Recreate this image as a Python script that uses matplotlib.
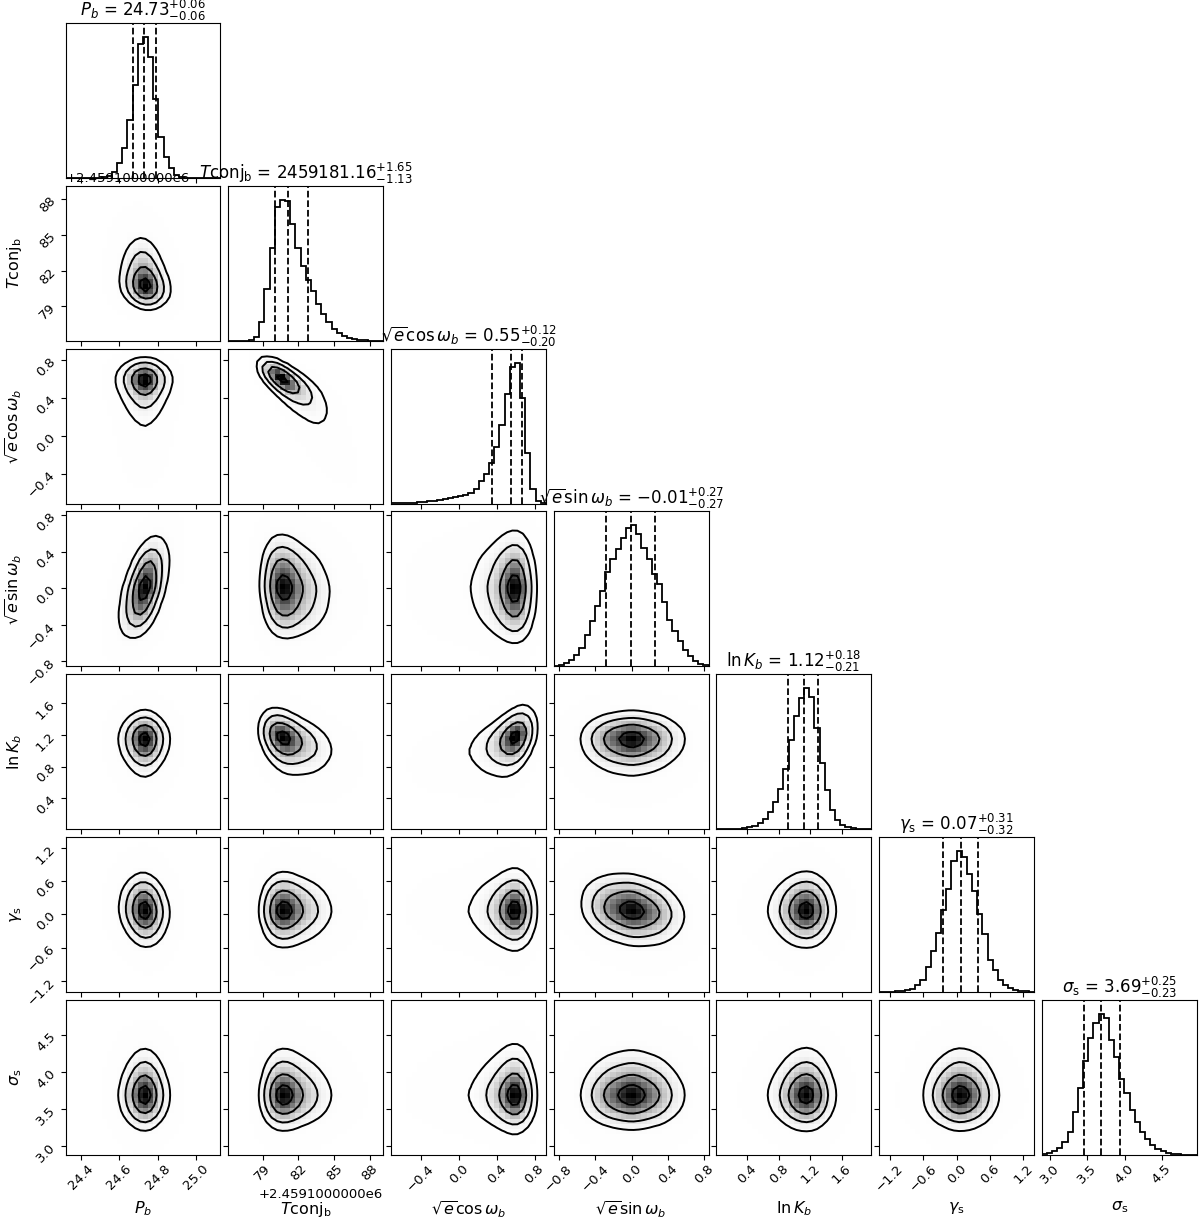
import math
import numpy as np
import matplotlib
matplotlib.use("Agg")
import matplotlib.pyplot as plt
from matplotlib.colors import LinearSegmentedColormap
from matplotlib.ticker import FixedLocator, FixedFormatter, NullFormatter, NullLocator

# ---------------- data ----------------
param_labels = [r"$P_b$", r"$T{\rm conj}_{\rm b}$", r"$\sqrt{e}\cos{\omega_b}$",
                r"$\sqrt{e}\sin{\omega_b}$", r"$\ln{K_b}$", r"$\gamma_{\rm s}$",
                r"$\sigma_{\rm s}$"]
medians = [24.73, 2459181.16, 0.55, -0.01, 1.12, 0.07, 3.69]
err_lo = [0.06, 1.13, 0.20, 0.27, 0.21, 0.32, 0.23]
err_hi = [0.06, 1.65, 0.12, 0.27, 0.18, 0.31, 0.25]
value_offset = [0.0, 2459100.0, 0.0, 0.0, 0.0, 0.0, 0.0]
offset_text = "+2.4591000000e6"

# sample ranges (min, max) of each parameter
ranges = [(24.318, 25.129), (2459176.12, 2459189.11), (-0.717, 0.92),
          (-0.855, 0.845), (0.0085, 1.971), (-1.398, 1.391), (2.888, 4.97)]

# 1D histogram heights (30 bins, relative units)
hist_P = [0, 0, 0, 0, 0, 0, 0, 0.5, 1.5, 4.5, 11, 21, 41, 66, 95, 100, 86, 56, 29,
          15, 7, 2, 0.5, 0, 0, 0, 0, 0, 0, 0]
hist_Tconj = [0, 0, 0, 0, 0.5, 2.4, 13, 37, 66, 95, 100, 99, 83, 66, 53, 43, 35, 26,
              19, 13, 8.5, 5.5, 3.5, 2, 1.2, 0.7, 0.4, 0.2, 0.1, 0]
hist_cos = [0.1, 0.2, 0.3, 0.5, 0.7, 1.0, 1.4, 1.7, 2.1, 2.6, 3.1, 3.8, 4.5, 5.2, 6.2,
            7.4, 10.5, 16, 21, 29, 40, 56, 78, 97, 100, 75, 36, 10, 2, 0.3]
hist_sin = [0.5, 1.2, 2.4, 4.3, 7.8, 13, 22.5, 32, 42.5, 53.7, 67, 76, 83, 91, 98, 100,
            94, 84, 76, 65.5, 58.4, 45.6, 33, 25, 17.7, 11.8, 7, 4, 1.9, 0.7]
hist_lnK = [0, 0, 0, 0.2, 0.4, 0.8, 1.2, 2.4, 4.5, 7.5, 12.3, 19.3, 28.3, 43, 63, 80, 93,
            100, 93.6, 72, 47, 27.6, 13.4, 6.4, 2.8, 1.2, 0.5, 0.2, 0, 0]
hist_gamma = [0, 0, 0.2, 0.5, 0.5, 1.2, 2.4, 4.7, 8.3, 17.7, 29, 42, 58, 73, 93, 100, 96,
              84, 71.6, 55, 41, 22.5, 15.4, 8.3, 4.7, 2.8, 1.4, 0.7, 0.3, 0.1]
hist_sigma = [0.3, 1.2, 2.6, 4.8, 9, 16, 30, 47, 66.5, 82.7, 93.8, 100, 97, 81.5, 69.6,
              53.7, 43.5, 31.6, 23.3, 16.2, 10.9, 7.1, 4.3, 2.4, 1.2, 0.5, 0.2, 0, 0, 0]
hists = [hist_P, hist_Tconj, hist_cos, hist_sin, hist_lnK, hist_gamma, hist_sigma]

# pairwise correlation (lower triangle: row = y parameter, col = x parameter)
pair_corr = [
    [],
    [-0.20],
    [0.00, -0.88],
    [0.55, -0.10, 0.00],
    [0.00, -0.40, 0.50, 0.00],
    [-0.10, 0.00, 0.00, -0.20, 0.00],
    [0.00, 0.00, 0.00, 0.00, 0.00, 0.00],
]

# tick positions and labels
ticks = [[24.4, 24.6, 24.8, 25.0],
         [2459179, 2459182, 2459185, 2459188],
         [-0.4, 0.0, 0.4, 0.8],
         [-0.8, -0.4, 0.0, 0.4, 0.8],
         [0.4, 0.8, 1.2, 1.6],
         [-1.2, -0.6, 0.0, 0.6, 1.2],
         [3.0, 3.5, 4.0, 4.5]]
tick_labels = [["24.4", "24.6", "24.8", "25.0"],
               ["79", "82", "85", "88"],
               ["\u22120.4", "0.0", "0.4", "0.8"],
               ["\u22120.8", "\u22120.4", "0.0", "0.4", "0.8"],
               ["0.4", "0.8", "1.2", "1.6"],
               ["\u22121.2", "\u22120.6", "0.0", "0.6", "1.2"],
               ["3.0", "3.5", "4.0", "4.5"]]

contour_levels = [0.118, 0.393, 0.675, 0.865]  # enclosed probability mass

# ---------------- helpers ----------------
K = len(param_labels)
NB = 30
TICK_FS = 9.5
LABEL_FS = 11.5
TITLE_FS = 12

_zt = np.linspace(-5.5, 5.5, 3001)
_ut = 0.5 * (1.0 + np.vectorize(math.erf)(_zt / math.sqrt(2.0)))
_gk = np.exp(-0.5 * np.arange(-4, 5) ** 2)
_gk /= _gk.sum()


def rng(k):
    lo, hi = ranges[k]
    return lo - value_offset[k], hi - value_offset[k]


def edges_of(k):
    lo, hi = rng(k)
    return np.linspace(lo, hi, NB + 1)


fine = {}
for k in range(K):
    e = edges_of(k)
    c = 0.5 * (e[1:] + e[:-1])
    cx = np.concatenate([[e[0]], c, [e[-1]]])
    cy = np.concatenate([[0.0], np.asarray(hists[k], float), [0.0]])
    xs = np.linspace(e[0], e[-1], 2000)
    fx = np.interp(xs, cx, cy)
    cdf = np.cumsum(fx)
    cdf = cdf / cdf[-1]
    fine[k] = (xs, fx / np.trapezoid(fx, xs), cdf)


def dens(k, x):
    xs, fx, _ = fine[k]
    return np.interp(x, xs, fx, left=0, right=0)


def zval(k, x):
    xs, _, cdf = fine[k]
    u = np.clip(np.interp(x, xs, cdf), 1e-7, 1 - 1e-7)
    return np.interp(u, _ut, _zt)


def joint(j, i, xv, yv):
    rho = pair_corr[i][j]
    X, Y = np.meshgrid(xv, yv)
    zx, zy = zval(j, X), zval(i, Y)
    cop = np.exp(-(rho ** 2 * (zx ** 2 + zy ** 2) - 2 * rho * zx * zy)
                 / (2 * (1 - rho ** 2))) / np.sqrt(1 - rho ** 2)
    return dens(j, X) * dens(i, Y) * cop


def smooth(H):
    H = np.apply_along_axis(lambda r: np.convolve(r, _gk, mode="same"), 0, H)
    H = np.apply_along_axis(lambda r: np.convolve(r, _gk, mode="same"), 1, H)
    return H


def pad_grid(H, xc, yc):
    H2 = H.min() + np.zeros((H.shape[0] + 4, H.shape[1] + 4))
    H2[2:-2, 2:-2] = H
    H2[2:-2, 1] = H[:, 0]
    H2[2:-2, -2] = H[:, -1]
    H2[1, 2:-2] = H[0]
    H2[-2, 2:-2] = H[-1]
    H2[1, 1] = H[0, 0]
    H2[1, -2] = H[0, -1]
    H2[-2, 1] = H[-1, 0]
    H2[-2, -2] = H[-1, -1]
    dx, dy = xc[1] - xc[0], yc[1] - yc[0]
    X2 = np.concatenate([xc[0] + np.array([-2, -1]) * dx, xc, xc[-1] + np.array([1, 2]) * dx])
    Y2 = np.concatenate([yc[0] + np.array([-2, -1]) * dy, yc, yc[-1] + np.array([1, 2]) * dy])
    return X2, Y2, H2


density_cmap = LinearSegmentedColormap.from_list("density_cmap", ["k", (1, 1, 1, 0)])


def set_ticks(axis, k, show):
    axis.set_major_locator(FixedLocator(np.array(ticks[k]) - value_offset[k]))
    if show:
        fmt = FixedFormatter(tick_labels[k])
        if value_offset[k] != 0:
            fmt.set_offset_string(offset_text)
        axis.set_major_formatter(fmt)
    else:
        axis.set_major_formatter(NullFormatter())


# ---------------- figure ----------------
fig = plt.figure(figsize=(12, 12.2), dpi=100)
gs = fig.add_gridspec(K, K, left=65.5 / 1200, right=1196.7 / 1200,
                      bottom=1 - 1154.7 / 1220, top=1 - 23 / 1220,
                      wspace=0.05, hspace=0.05)

for i in range(K):
    for j in range(i + 1):
        ax = fig.add_subplot(gs[i, j])
        ax.tick_params(labelsize=TICK_FS, length=3.5, width=0.8, pad=2)
        if i == j:
            e = edges_of(i)
            c = 0.5 * (e[1:] + e[:-1])
            ax.hist(c, bins=e, weights=hists[i], histtype="step", color="k", lw=1.3)
            m = medians[i] - value_offset[i]
            for q in (m - err_lo[i], m, m + err_hi[i]):
                ax.axvline(q, ls="dashed", color="k", lw=1.3)
            ax.set_xlim(*rng(i))
            ax.set_ylim(0, 1.1 * max(hists[i]))
            ax.yaxis.set_major_locator(NullLocator())
            mtxt = f"{medians[i]:.2f}"
            ax.set_title(f"{param_labels[i]} = ${mtxt}_{{-{err_lo[i]:.2f}}}^{{+{err_hi[i]:.2f}}}$",
                         fontsize=TITLE_FS, pad=4)
        else:
            e_x, e_y = edges_of(j), edges_of(i)
            cx = 0.5 * (e_x[1:] + e_x[:-1])
            cy = 0.5 * (e_y[1:] + e_y[:-1])
            H = smooth(joint(j, i, cx, cy))
            flat = np.sort(H.ravel())[::-1]
            cs = np.cumsum(flat)
            cs /= cs[-1]
            V = []
            for lv in contour_levels:
                sel = flat[cs <= lv]
                V.append(sel[-1] if len(sel) else flat[0])
            V = np.sort(V)
            ax.pcolormesh(e_x, e_y, H.max() - H, cmap=density_cmap, shading="flat")
            X2, Y2, H2 = pad_grid(H, cx, cy)
            ax.contour(X2, Y2, H2, V, colors="k", linewidths=1.4)
            ax.set_xlim(*rng(j))
            ax.set_ylim(*rng(i))
            set_ticks(ax.yaxis, i, j == 0)
            if j == 0:
                ax.tick_params(axis="y", labelrotation=45)
                ax.set_ylabel(param_labels[i], fontsize=LABEL_FS)
                ax.yaxis.set_label_coords(-0.27, 0.5)
                ax.yaxis.get_offset_text().set_fontsize(TICK_FS)
        set_ticks(ax.xaxis, j, i == K - 1)
        if i == K - 1:
            ax.tick_params(axis="x", labelrotation=45)
            ax.set_xlabel(param_labels[j], fontsize=LABEL_FS)
            ax.xaxis.set_label_coords(0.5, -0.29)
            ax.xaxis.get_offset_text().set_fontsize(TICK_FS)

fig.savefig("out.png", dpi=100)
